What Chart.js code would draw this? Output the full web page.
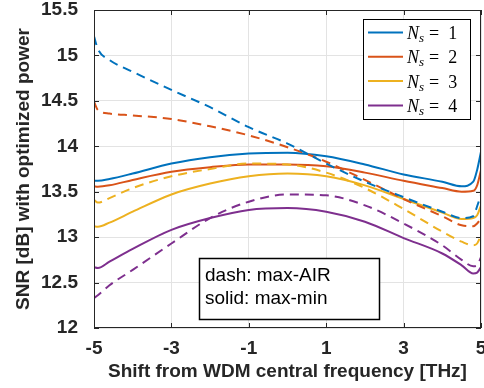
<!DOCTYPE html>
<html>
<head>
<meta charset="utf-8">
<script src="https://cdn.jsdelivr.net/npm/chart.js"></script>
<style>
  html, body { margin: 0; padding: 0; background: #fff; }
  #wrap { width: 484px; height: 388px; }
</style>
</head>
<body>
<div id="wrap"><canvas id="myChart" width="484" height="388"></canvas></div>
<script>
// data
var shift = [-5, -4.9, -4.6, -4, -3, -2, -1, 0, 1, 2, 3, 4, 4.5, 4.8, 4.9, 5];
var xTicks = [-5, -3, -1, 1, 3, 5];
var yTicks = [12, 12.5, 13, 13.5, 14, 14.5, 15, 15.5];
var nsValues = [1, 2, 3, 4];
var colors = ["#0072BD", "#D95319", "#EDB120", "#7E2F8E"];

// solid: max-min
var solid1 = [13.62, 13.62, 13.64, 13.70, 13.81, 13.88, 13.92, 13.93, 13.89, 13.80, 13.69, 13.61, 13.56, 13.61, 13.74, 13.94];
var solid2 = [13.56, 13.555, 13.57, 13.63, 13.72, 13.77, 13.80, 13.80, 13.78, 13.71, 13.62, 13.54, 13.50, 13.51, 13.57, 13.74];
var solid3 = [13.12, 13.115, 13.16, 13.28, 13.47, 13.59, 13.67, 13.70, 13.67, 13.57, 13.42, 13.27, 13.20, 13.21, 13.24, 13.35];
var solid4 = [12.67, 12.66, 12.73, 12.87, 13.08, 13.21, 13.30, 13.32, 13.28, 13.17, 12.99, 12.82, 12.69, 12.60, 12.61, 12.67];
// dashed: max-AIR
var dash1 = [15.21, 15.07, 14.95, 14.82, 14.62, 14.43, 14.21, 14.03, 13.81, 13.61, 13.44, 13.28, 13.21, 13.23, 13.34, 13.47];
var dash2 = [14.49, 14.40, 14.36, 14.34, 14.30, 14.22, 14.12, 13.99, 13.83, 13.63, 13.42, 13.23, 13.13, 13.12, 13.15, 13.21];
var dash3 = [13.41, 13.38, 13.43, 13.54, 13.67, 13.75, 13.81, 13.80, 13.71, 13.54, 13.31, 13.06, 12.95, 12.91, 12.93, 13.02];
var dash4 = [12.33, 12.36, 12.47, 12.64, 12.93, 13.21, 13.39, 13.47, 13.46, 13.35, 13.15, 12.91, 12.75, 12.68, 12.69, 12.78];

var solids = [solid1, solid2, solid3, solid4];
var dashes = [dash1, dash2, dash3, dash4];
var axisColor = "#262626";

function toPoints(arr) {
  return arr.map(function (v, i) { return { x: shift[i], y: v }; });
}

var datasets = [];
dashes.forEach(function (d, i) {
  datasets.push({
    label: "dash " + nsValues[i],
    data: toPoints(d),
    borderColor: colors[i],
    borderWidth: 2,
    borderDash: [9, 6],
    pointRadius: 0,
    cubicInterpolationMode: "monotone",
    fill: false
  });
});
solids.forEach(function (s, i) {
  datasets.push({
    label: "solid " + nsValues[i],
    data: toPoints(s),
    borderColor: colors[i],
    borderWidth: 2,
    pointRadius: 0,
    cubicInterpolationMode: "monotone",
    fill: false
  });
});

// box with inward ticks, legend and the note
var decorPlugin = {
  id: "decor",
  afterDraw: function (chart) {
    var ctx = chart.ctx;
    var a = chart.chartArea;
    var xs = chart.scales.x, ys = chart.scales.y;
    ctx.save();
    ctx.strokeStyle = axisColor;
    ctx.lineWidth = 1;
    ctx.strokeRect(a.left + 0.5, a.top + 0.5, a.right - a.left - 1, a.bottom - a.top - 1);
    var tl = 5;
    ctx.beginPath();
    xTicks.forEach(function (v) {
      var px = Math.round(xs.getPixelForValue(v)) + 0.5;
      ctx.moveTo(px, a.bottom); ctx.lineTo(px, a.bottom - tl);
      ctx.moveTo(px, a.top); ctx.lineTo(px, a.top + tl);
    });
    yTicks.forEach(function (v) {
      var py = Math.round(ys.getPixelForValue(v)) + 0.5;
      ctx.moveTo(a.left, py); ctx.lineTo(a.left + tl, py);
      ctx.moveTo(a.right, py); ctx.lineTo(a.right - tl, py);
    });
    ctx.stroke();

    // legend
    var lx = 363, ly = 19, lw = 107, lh = 100;
    ctx.fillStyle = "#fff";
    ctx.fillRect(lx, ly, lw, lh);
    ctx.strokeStyle = "#000";
    ctx.lineWidth = 1;
    ctx.strokeRect(lx + 0.5, ly + 0.5, lw, lh);
    nsValues.forEach(function (n, i) {
      var cy = 32.5 + i * 24.3;
      ctx.strokeStyle = colors[i];
      ctx.lineWidth = 2;
      ctx.beginPath();
      ctx.moveTo(368, cy); ctx.lineTo(403, cy);
      ctx.stroke();
      ctx.fillStyle = "#000";
      ctx.textBaseline = "alphabetic";
      ctx.textAlign = "left";
      var tx = 407, by = cy + 6.5;
      ctx.font = "italic 18px 'Liberation Serif'";
      ctx.fillText("N", tx, by);
      tx += ctx.measureText("N").width;
      ctx.font = "italic 13px 'Liberation Serif'";
      ctx.fillText("s", tx, by + 3);
      tx += ctx.measureText("s").width + 5;
      ctx.font = "18px 'Liberation Serif'";
      ctx.fillText("=  " + n, tx, by);
    });

    // note box
    ctx.fillStyle = "#fff";
    ctx.fillRect(199, 258, 180, 61);
    ctx.strokeStyle = "#000";
    ctx.lineWidth = 1.5;
    ctx.strokeRect(199.5, 258.5, 180, 61);
    ctx.fillStyle = "#000";
    ctx.font = "19px 'Liberation Sans'";
    ctx.textBaseline = "middle";
    ctx.fillText("dash: max-AIR", 205, 276);
    ctx.fillText("solid: max-min", 205, 299);
    ctx.restore();
  }
};

function plainLabel(v) { return String(v); }

var config = {
  type: "line",
  data: { datasets: datasets },
  options: {
    responsive: false,
    animation: false,
    layout: { padding: { top: 10, right: 3, left: 0, bottom: 0 } },
    plugins: { legend: { display: false }, tooltip: { enabled: false } },
    scales: {
      x: {
        type: "linear",
        min: -5,
        max: 5,
        afterBuildTicks: function (s) { s.ticks = xTicks.map(function (v) { return { value: v }; }); },
        afterFit: function (s) { s.height = 60; s.paddingLeft = 0; s.paddingRight = 0; },
        grid: { color: "#e3e3e3", drawTicks: false },
        border: { display: false },
        ticks: { color: axisColor, padding: 9, callback: plainLabel, font: { family: "Liberation Sans", size: 19, weight: "bold" } },
        title: {
          display: true,
          text: "Shift from WDM central frequency [THz]",
          color: axisColor,
          padding: { top: 0, bottom: 5 },
          font: { family: "Liberation Sans", size: 19, weight: "bold" }
        }
      },
      y: {
        min: 12,
        max: 15.5,
        afterBuildTicks: function (s) { s.ticks = yTicks.map(function (v) { return { value: v }; }); },
        afterFit: function (s) { s.width = 94; s.paddingTop = 0; s.paddingBottom = 0; },
        grid: { color: "#e3e3e3", drawTicks: false },
        border: { display: false },
        ticks: { color: axisColor, padding: 16, callback: plainLabel, font: { family: "Liberation Sans", size: 19, weight: "bold" } },
        title: {
          display: true,
          text: "SNR [dB] with optimized power",
          color: axisColor,
          padding: { top: 12, bottom: 0 },
          font: { family: "Liberation Sans", size: 19, weight: "bold" }
        }
      }
    }
  },
  plugins: [decorPlugin]
};

new Chart(document.getElementById("myChart"), config);
</script>
</body>
</html>
